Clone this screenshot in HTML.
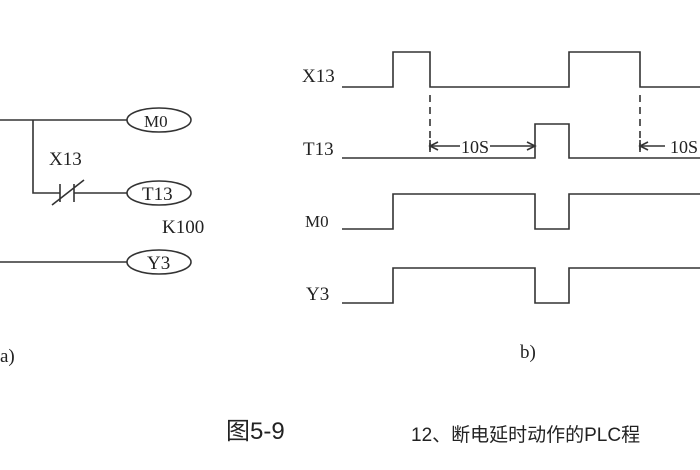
<!DOCTYPE html>
<html><head><meta charset="utf-8"><style>
body{margin:0;background:#fff;}
svg{display:block}
text{font-family:"Liberation Serif","Noto Serif CJK SC",serif;fill:#222}
</style></head><body>
<svg width="700" height="470" viewBox="0 0 700 470" xmlns="http://www.w3.org/2000/svg">
<g stroke="#333" stroke-width="1.6" fill="none">
<path d="M0 120H127M33 120V193H60M74 193H127M0 262H127"/>
<path d="M60 184V202M74 184V202M52 205L84 180"/>
<ellipse cx="159" cy="120" rx="32" ry="12"/>
<ellipse cx="159" cy="193" rx="32" ry="12"/>
<ellipse cx="159" cy="262" rx="32" ry="12"/>
<path d="M342 87H393V52H430V87H569V52H640V87H700"/>
<path d="M342 158H535V124H569V158H700"/>
<path d="M342 229H393V194H535V229H569V194H700"/>
<path d="M342 303H393V268H535V303H569V268H700"/>
<path d="M430 95V150M640 95V150" stroke-dasharray="7,5"/>
<path d="M430 146H460M490 146H535M430 140V152M640 140V152M640 146H665"/>
<path d="M438 142L430 146L438 150M527 142L535 146L527 150M648 142L640 146L648 150"/>
</g>
<g font-size="19">
<text x="144" y="127" font-size="17">M0</text>
<text x="142" y="200">T13</text>
<text x="147" y="269">Y3</text>
<text x="49" y="165">X13</text>
<text x="162" y="233">K100</text>
<text x="0" y="362">a)</text>
<text x="302" y="82">X13</text>
<text x="303" y="155">T13</text>
<text x="305" y="227" font-size="17">M0</text>
<text x="306" y="300">Y3</text>
<text x="461" y="153" font-size="18">10S</text>
<text x="670" y="153" font-size="18">10S</text>
<text x="520" y="358">b)</text>
</g>
<text x="226" y="439" font-size="24" style="font-family:'Liberation Sans','Noto Sans CJK SC',sans-serif">图5-9</text>
<text x="411" y="441" font-size="19" style="font-family:'Liberation Sans','Noto Sans CJK SC',sans-serif">12、断电延时动作的PLC程</text>
</svg>
</body></html>
